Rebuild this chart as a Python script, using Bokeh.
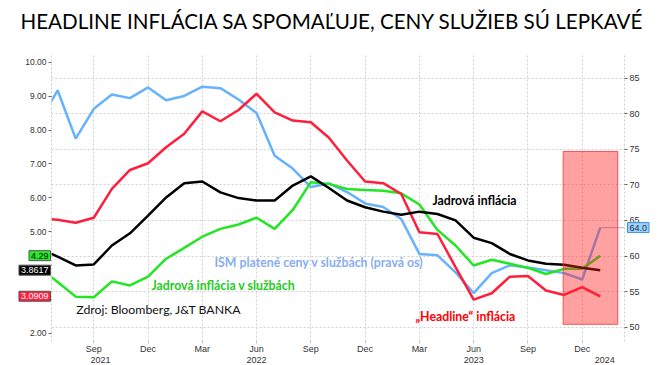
from bokeh.plotting import figure
from bokeh.models import (Range1d, LinearAxis, FixedTicker, Grid, Label, BoxAnnotation,
                          NumeralTickFormatter, GridBox, ColumnDataSource)
from bokeh.core.properties import value
from bokeh.embed import file_html
from bokeh.resources import INLINE

# ---------------- data ----------------
months = ["2021-06", "2021-07", "2021-08", "2021-09", "2021-10", "2021-11", "2021-12",
          "2022-01", "2022-02", "2022-03", "2022-04", "2022-05", "2022-06", "2022-07",
          "2022-08", "2022-09", "2022-10", "2022-11", "2022-12", "2023-01", "2023-02",
          "2023-03", "2023-04", "2023-05", "2023-06", "2023-07", "2023-08", "2023-09",
          "2023-10", "2023-11", "2023-12", "2024-01"]

ism_prices = [78.9, 83.3, 76.5, 80.7, 82.7, 82.2, 83.7, 81.9, 82.5, 83.8, 83.6, 82.0,
              80.1, 74.1, 72.3, 69.7, 70.2, 69.0, 67.4, 66.9, 65.2, 60.3, 60.1, 57.7,
              54.8, 57.6, 58.7, 58.4, 58.0, 57.6, 56.7, 64.0]

headline_cpi = [5.39, 5.35, 5.26, 5.41, 6.26, 6.82, 7.02, 7.49, 7.89, 8.55, 8.26, 8.59,
                9.07, 8.52, 8.28, 8.23, 7.77, 7.10, 6.48, 6.43, 6.11, 4.98, 4.93, 3.95,
                2.99, 3.18, 3.67, 3.69, 3.26, 3.13, 3.36, 3.0909]

core_cpi = [4.50, 4.26, 4.00, 4.03, 4.59, 4.95, 5.47, 6.01, 6.43, 6.48, 6.16, 5.99,
            5.92, 5.92, 6.36, 6.63, 6.29, 5.92, 5.72, 5.59, 5.50, 5.59, 5.52, 5.33,
            4.82, 4.66, 4.34, 4.15, 4.05, 4.02, 3.93, 3.8617]

core_services = [3.94, 3.51, 3.08, 3.06, 3.53, 3.41, 3.67, 4.20, 4.52, 4.85, 5.08, 5.21,
                 5.41, 5.08, 5.64, 6.46, 6.41, 6.26, 6.23, 6.21, 6.13, 5.80, 5.05, 4.59,
                 4.00, 4.17, 4.05, 3.93, 3.75, 3.90, 3.90, 4.29]

tick_months = ["2021-09", "2021-12", "2022-03", "2022-06", "2022-09", "2022-12",
               "2023-03", "2023-06", "2023-09", "2023-12"]
tick_labels = ["Sep", "Dec", "Mar", "Jun", "Sep", "Dec", "Mar", "Jun", "Sep", "Dec"]
year_labels = ["2021", "2022", "2023", "2024"]
left_ticks = [2, 3, 4, 5, 6, 7, 8, 9, 10]
right_ticks = [50, 55, 60, 65, 70, 75, 80, 85]

title_text = "HEADLINE INFLÁCIA SA SPOMAĽUJE, CENY SLUŽIEB SÚ LEPKAVÉ"

# ---------------- layout ----------------
W, H = 661, 365
TOP, BOTTOM, LEFT, RIGHT = 53, 24, 51, 37
x = list(range(len(months)))
x_start, x_end = 0.662, 32.34
y_lo, y_hi = 1.755, 10.26
r_lo, r_hi = 47.99, 88.47

TICK_FONT = "Liberation Sans"
ANNOT_FONT = "Lato"

p = figure(width=W, height=H, output_backend="svg", toolbar_location=None,
           x_range=Range1d(x_start, x_end), y_range=Range1d(y_lo, y_hi),
           min_border_left=LEFT, min_border_right=RIGHT, min_border_top=TOP,
           min_border_bottom=BOTTOM)
p.frame_align = False
p.outline_line_color = None
p.extra_y_ranges = {"right": Range1d(r_lo, r_hi)}

def style_axis(a, size="9px"):
    a.minor_tick_line_color = None
    a.major_label_text_font = TICK_FONT
    a.major_label_text_font_size = size
    a.major_label_text_color = "#333333"

# bottom axis (months)
xt = [months.index(m) for m in tick_months]
xa = p.xaxis[0]
xa.ticker = FixedTicker(ticks=xt)
xa.major_label_overrides = {t: l for t, l in zip(xt, tick_labels)}
xa.axis_line_color = None
xa.major_tick_line_color = "#bbbbbb"
xa.major_tick_out = 2
xa.major_tick_in = 0
xa.major_label_standoff = 0
style_axis(xa)

# second bottom axis (years)
year_pos = [3.375, months.index("2022-06"), months.index("2023-06"), 31.25]
xa2 = LinearAxis(ticker=FixedTicker(ticks=year_pos),
                 major_label_overrides={v: t for v, t in zip(year_pos, year_labels)})
xa2.axis_line_color = None
xa2.major_tick_line_color = None
xa2.major_tick_out = 0
xa2.major_tick_in = 0
xa2.major_label_standoff = 0
style_axis(xa2)
p.add_layout(xa2, "below")

# left axis
ya = p.yaxis[0]
ya.ticker = FixedTicker(ticks=left_ticks)
ya.formatter = NumeralTickFormatter(format="0.00")
ya.major_label_overrides = {3: "", 4: ""}
ya.axis_line_color = "#cccccc"
ya.axis_line_dash = "2 2"
ya.major_tick_line_color = "#666666"
ya.major_tick_out = 3
ya.major_tick_in = 0
ya.major_label_standoff = 2
style_axis(ya, "8.5px")

# right axis
ra = LinearAxis(y_range_name="right", ticker=FixedTicker(ticks=right_ticks))
ra.axis_line_color = "#cccccc"
ra.axis_line_dash = "2 2"
ra.major_tick_line_color = "#666666"
ra.major_tick_out = 3
ra.major_tick_in = 0
ra.major_label_standoff = 2
style_axis(ra)
p.add_layout(ra, "right")

# grids
p.xgrid.grid_line_color = "#d0d0d0"
p.xgrid.grid_line_dash = "2 2"
p.ygrid.visible = False
p.add_layout(Grid(dimension=1, y_range_name="right", ticker=FixedTicker(ticks=right_ticks),
                  grid_line_color="#d0d0d0", grid_line_dash="2 2"))

# series
BLUE, GREEN, RED, BLACK = "#66b2ff", "#22e622", "#ff1f3d", "#000000"
p.line(x, ism_prices, y_range_name="right", line_color=BLUE, line_width=2.5)
p.segment(x0=[x[-1]], y0=[ism_prices[-1]], x1=[x_end], y1=[ism_prices[-1]],
          y_range_name="right", line_color="#a9c0ee", line_width=1.2)
p.line(x, core_services, line_color=GREEN, line_width=2.5)
p.line(x, headline_cpi, line_color=RED, line_width=2.5)
p.line(x, core_cpi, line_color=BLACK, line_width=2.5)

# highlighted recent period
p.add_layout(BoxAnnotation(left=months.index("2023-11") - 0.05, right=months.index("2024-01") + 0.97,
                           bottom=50.4, top=74.7, y_range_name="right",
                           fill_color="#ff2020", fill_alpha=0.42,
                           line_color="#ff3030", line_alpha=0.8, line_width=1))

# annotation texts
def note(xv, yv, txt, color, bold=True, size="12.3px"):
    p.add_layout(Label(x=xv, y=yv, text=txt, text_color=color, text_font=ANNOT_FONT,
                       text_font_size=size, text_font_style="bold" if bold else "normal",
                       text_align="left", text_baseline="middle"))

note(21.72, 5.92, "Jadrová inflácia", "#000000")
note(9.67, 4.09, "ISM platené ceny v službách (pravá os)", "#88aeee")
note(6.19, 3.41, "Jadrová inflácia v službách", "#22cc22")
note(2.03, 2.70, "Zdroj: Bloomberg, J&T BANKA", "#111111", bold=False)
note(20.78, 2.49, "\u201eHeadline\u201c inflácia", "#ff0000")

# ---------------- transparent overlay: title and last-value badges ----------------
frame_h = H - TOP - BOTTOM

def padded(lo, hi):
    ppu = frame_h / (hi - lo)
    return Range1d(lo - BOTTOM / ppu, hi + TOP / ppu)

q = figure(width=W, height=H, output_backend="svg", toolbar_location=None,
           x_range=Range1d(0, W), y_range=padded(y_lo, y_hi),
           x_axis_type=None, y_axis_type=None,
           min_border_left=0, min_border_right=0, min_border_top=0, min_border_bottom=0)
q.frame_align = False
q.extra_y_ranges = {"right": padded(r_lo, r_hi), "px": Range1d(H, 0)}
q.outline_line_color = None
q.background_fill_alpha = 0
q.border_fill_alpha = 0
q.grid.visible = False

q.text(x=[332], y=[20], text=[title_text], y_range_name="px", text_align="center",
       text_baseline="middle", text_font=value(ANNOT_FONT), text_font_size=value("20.6px"),
       text_color="#000000")

left_badges = ColumnDataSource(dict(
    y=[core_services[-1], core_cpi[-1], headline_cpi[-1]],
    t=[f"{core_services[-1]:.2f}", f"{core_cpi[-1]:.4f}", f"{headline_cpi[-1]:.4f}"],
    bg=["#22ee22", "#000000", "#ff1f3d"],
    fg=["#000000", "#ffffff", "#ffffff"],
))
q.text(x=LEFT - 1, y="y", text="t", source=left_badges, text_align="right",
       text_baseline="middle", text_font=value(TICK_FONT), text_font_size=value("9px"),
       text_color="fg", background_fill_color="bg", border_line_color="#555555",
       padding=(2, 2))

q.text(x=[W - RIGHT + 3], y=[ism_prices[-1]], text=[f"{ism_prices[-1]:.1f}"],
       y_range_name="right", text_align="left", text_baseline="middle",
       text_font=value(TICK_FONT), text_font_size=value("9px"), text_color="#10304f",
       background_fill_color="#9fd0ff", border_line_color="#3b8fe0", padding=(2, 2))

layout = GridBox(children=[(p, 0, 0), (q, 0, 0)])
open("out.html", "w").write(file_html(layout, INLINE))
